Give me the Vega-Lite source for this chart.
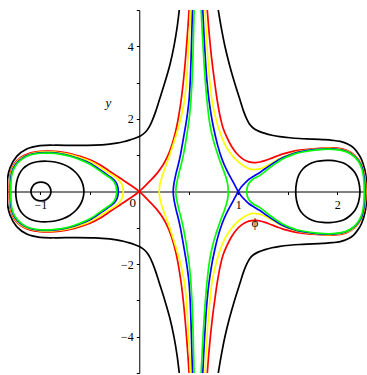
{
  "$schema": "https://vega.github.io/schema/vega-lite/v6.json",
  "width": 360,
  "height": 363,
  "autosize": {"type": "none"},
  "padding": {"left": 7, "top": 10, "right": 0, "bottom": 2},
  "background": "white",
  "config": {
    "view": {"stroke": null},
    "axis": {
      "grid": false,
      "title": null,
      "domainColor": "black",
      "domainWidth": 1,
      "tickColor": "black",
      "tickWidth": 1,
      "tickSize": 3,
      "labelColor": "black",
      "labelFont": "Liberation Serif",
      "labelFontSize": 12,
      "labelFlush": false,
      "labelOverlap": false
    }
  },
  "datasets": {
    "curves": [
      {"k": "SC", "s": "black", "loop": true},
      {"k": "LO", "s": "black", "loop": true},
      {"k": "RO", "s": "black", "loop": true},
      {"k": "OBL", "s": "black", "loop": false},
      {"k": "OBR", "s": "black", "loop": false},
      {"k": "RA", "s": "red", "loop": false},
      {"k": "RB", "s": "red", "loop": false},
      {"k": "YA", "s": "yellow", "loop": true},
      {"k": "YB", "s": "yellow", "loop": false},
      {"k": "YC", "s": "yellow", "loop": false},
      {"k": "BA", "s": "blue", "loop": true},
      {"k": "BB", "s": "blue", "loop": false},
      {"k": "BC", "s": "blue", "loop": false},
      {"k": "GA", "s": "green", "loop": true},
      {"k": "GB", "s": "green", "loop": false},
      {"k": "GC", "s": "green", "loop": false},
      {"k": "GD", "s": "green", "loop": true}
    ],
    "pts": [
      {"k":"SC","x":-0.892,"y":0},{"k":"SC","x":-0.906,"y":0.13},{"k":"SC","x":-0.943,"y":0.225},{"k":"SC","x":-0.993,"y":0.26},{"k":"SC","x":-1.044,"y":0.225},{"k":"SC","x":-1.08,"y":0.13},{"k":"SC","x":-1.094,"y":0},{"k":"SC","x":-1.08,"y":-0.13},{"k":"SC","x":-1.044,"y":-0.225},{"k":"SC","x":-0.993,"y":-0.26},{"k":"SC","x":-0.943,"y":-0.225},{"k":"SC","x":-0.906,"y":-0.13},

      {"k":"LO","x":-0.559,"y":0},{"k":"LO","x":-0.569,"y":0.187},{"k":"LO","x":-0.594,"y":0.352},{"k":"LO","x":-0.639,"y":0.517},{"k":"LO","x":-0.7,"y":0.655},{"k":"LO","x":-0.771,"y":0.751},{"k":"LO","x":-0.852,"y":0.812},{"k":"LO","x":-0.935,"y":0.834},{"k":"LO","x":-1.033,"y":0.82},{"k":"LO","x":-1.114,"y":0.751},{"k":"LO","x":-1.175,"y":0.627},{"k":"LO","x":-1.215,"y":0.462},{"k":"LO","x":-1.24,"y":0.242},{"k":"LO","x":-1.248,"y":0},
      {"k":"LO","x":-1.24,"y":-0.242},{"k":"LO","x":-1.215,"y":-0.462},{"k":"LO","x":-1.175,"y":-0.627},{"k":"LO","x":-1.114,"y":-0.751},{"k":"LO","x":-1.033,"y":-0.82},{"k":"LO","x":-0.935,"y":-0.834},{"k":"LO","x":-0.852,"y":-0.812},{"k":"LO","x":-0.771,"y":-0.751},{"k":"LO","x":-0.7,"y":-0.655},{"k":"LO","x":-0.639,"y":-0.517},{"k":"LO","x":-0.594,"y":-0.352},{"k":"LO","x":-0.569,"y":-0.187},

      {"k":"RO","x":1.58,"y":0},{"k":"RO","x":1.588,"y":0.242},{"k":"RO","x":1.613,"y":0.462},{"k":"RO","x":1.654,"y":0.627},{"k":"RO","x":1.714,"y":0.751},{"k":"RO","x":1.785,"y":0.825},{"k":"RO","x":1.856,"y":0.853},{"k":"RO","x":1.926,"y":0.856},{"k":"RO","x":1.997,"y":0.834},{"k":"RO","x":2.068,"y":0.779},{"k":"RO","x":2.128,"y":0.668},{"k":"RO","x":2.179,"y":0.517},{"k":"RO","x":2.214,"y":0.297},{"k":"RO","x":2.229,"y":0},
      {"k":"RO","x":2.214,"y":-0.297},{"k":"RO","x":2.179,"y":-0.517},{"k":"RO","x":2.128,"y":-0.668},{"k":"RO","x":2.068,"y":-0.779},{"k":"RO","x":1.997,"y":-0.834},{"k":"RO","x":1.926,"y":-0.856},{"k":"RO","x":1.856,"y":-0.853},{"k":"RO","x":1.785,"y":-0.825},{"k":"RO","x":1.714,"y":-0.751},{"k":"RO","x":1.654,"y":-0.627},{"k":"RO","x":1.613,"y":-0.462},{"k":"RO","x":1.588,"y":-0.242},

      {"k":"OBL","x":0.404,"y":5},{"k":"OBL","x":0.381,"y":4.5},{"k":"OBL","x":0.35,"y":4},{"k":"OBL","x":0.31,"y":3.5},{"k":"OBL","x":0.258,"y":3},{"k":"OBL","x":0.2,"y":2.5},{"k":"OBL","x":0.165,"y":2.2},{"k":"OBL","x":0.138,"y":2},{"k":"OBL","x":0.105,"y":1.8},{"k":"OBL","x":0.07,"y":1.66},{"k":"OBL","x":0.035,"y":1.575},{"k":"OBL","x":0,"y":1.515},{"k":"OBL","x":-0.05,"y":1.46},{"k":"OBL","x":-0.1,"y":1.415},{"k":"OBL","x":-0.16,"y":1.37},{"k":"OBL","x":-0.23,"y":1.333},{"k":"OBL","x":-0.3,"y":1.307},{"k":"OBL","x":-0.45,"y":1.277},{"k":"OBL","x":-0.65,"y":1.27},{"k":"OBL","x":-0.85,"y":1.275},{"k":"OBL","x":-1.003,"y":1.262},{"k":"OBL","x":-1.137,"y":1.17},{"k":"OBL","x":-1.238,"y":0.966},{"k":"OBL","x":-1.306,"y":0.646},{"k":"OBL","x":-1.332,"y":0.325},{"k":"OBL","x":-1.334,"y":0},
      {"k":"OBL","x":-1.332,"y":-0.325},{"k":"OBL","x":-1.306,"y":-0.646},{"k":"OBL","x":-1.238,"y":-0.966},{"k":"OBL","x":-1.137,"y":-1.17},{"k":"OBL","x":-1.003,"y":-1.262},{"k":"OBL","x":-0.85,"y":-1.275},{"k":"OBL","x":-0.65,"y":-1.27},{"k":"OBL","x":-0.45,"y":-1.277},{"k":"OBL","x":-0.3,"y":-1.307},{"k":"OBL","x":-0.23,"y":-1.333},{"k":"OBL","x":-0.16,"y":-1.37},{"k":"OBL","x":-0.1,"y":-1.415},{"k":"OBL","x":-0.05,"y":-1.46},{"k":"OBL","x":0,"y":-1.515},{"k":"OBL","x":0.035,"y":-1.575},{"k":"OBL","x":0.07,"y":-1.66},{"k":"OBL","x":0.105,"y":-1.8},{"k":"OBL","x":0.138,"y":-2},{"k":"OBL","x":0.165,"y":-2.2},{"k":"OBL","x":0.2,"y":-2.5},{"k":"OBL","x":0.258,"y":-3},{"k":"OBL","x":0.31,"y":-3.5},{"k":"OBL","x":0.35,"y":-4},{"k":"OBL","x":0.381,"y":-4.5},{"k":"OBL","x":0.404,"y":-5},

      {"k":"OBR","x":0.798,"y":5},{"k":"OBR","x":0.829,"y":4.5},{"k":"OBR","x":0.865,"y":4},{"k":"OBR","x":0.91,"y":3.5},{"k":"OBR","x":0.962,"y":3},{"k":"OBR","x":1.02,"y":2.5},{"k":"OBR","x":1.055,"y":2.2},{"k":"OBR","x":1.085,"y":2},{"k":"OBR","x":1.115,"y":1.85},{"k":"OBR","x":1.15,"y":1.75},{"k":"OBR","x":1.2,"y":1.67},{"k":"OBR","x":1.27,"y":1.6},{"k":"OBR","x":1.34,"y":1.55},{"k":"OBR","x":1.42,"y":1.51},{"k":"OBR","x":1.52,"y":1.48},{"k":"OBR","x":1.62,"y":1.46},{"k":"OBR","x":1.75,"y":1.445},{"k":"OBR","x":1.85,"y":1.43},{"k":"OBR","x":1.95,"y":1.41},{"k":"OBR","x":2.03,"y":1.38},{"k":"OBR","x":2.11,"y":1.3},{"k":"OBR","x":2.165,"y":1.2},{"k":"OBR","x":2.222,"y":1},{"k":"OBR","x":2.246,"y":0.875},{"k":"OBR","x":2.278,"y":0.6},{"k":"OBR","x":2.294,"y":0.3},{"k":"OBR","x":2.298,"y":0},
      {"k":"OBR","x":2.294,"y":-0.3},{"k":"OBR","x":2.278,"y":-0.6},{"k":"OBR","x":2.246,"y":-0.875},{"k":"OBR","x":2.222,"y":-1},{"k":"OBR","x":2.165,"y":-1.2},{"k":"OBR","x":2.11,"y":-1.3},{"k":"OBR","x":2.03,"y":-1.38},{"k":"OBR","x":1.95,"y":-1.41},{"k":"OBR","x":1.85,"y":-1.43},{"k":"OBR","x":1.75,"y":-1.445},{"k":"OBR","x":1.62,"y":-1.46},{"k":"OBR","x":1.52,"y":-1.48},{"k":"OBR","x":1.42,"y":-1.51},{"k":"OBR","x":1.34,"y":-1.55},{"k":"OBR","x":1.27,"y":-1.6},{"k":"OBR","x":1.2,"y":-1.67},{"k":"OBR","x":1.15,"y":-1.75},{"k":"OBR","x":1.115,"y":-1.85},{"k":"OBR","x":1.085,"y":-2},{"k":"OBR","x":1.055,"y":-2.2},{"k":"OBR","x":1.02,"y":-2.5},{"k":"OBR","x":0.962,"y":-3},{"k":"OBR","x":0.91,"y":-3.5},{"k":"OBR","x":0.865,"y":-4},{"k":"OBR","x":0.829,"y":-4.5},{"k":"OBR","x":0.798,"y":-5},

      {"k":"RA","x":0.503,"y":5},{"k":"RA","x":0.491,"y":4.5},{"k":"RA","x":0.477,"y":4},{"k":"RA","x":0.462,"y":3.5},{"k":"RA","x":0.444,"y":3},{"k":"RA","x":0.422,"y":2.5},{"k":"RA","x":0.393,"y":2},{"k":"RA","x":0.375,"y":1.75},{"k":"RA","x":0.353,"y":1.5},{"k":"RA","x":0.326,"y":1.25},{"k":"RA","x":0.291,"y":1},{"k":"RA","x":0.244,"y":0.75},{"k":"RA","x":0.179,"y":0.5},{"k":"RA","x":0.094,"y":0.25},{"k":"RA","x":0,"y":0},
      {"k":"RA","x":-0.094,"y":-0.187},{"k":"RA","x":-0.195,"y":-0.371},{"k":"RA","x":-0.296,"y":-0.553},{"k":"RA","x":-0.397,"y":-0.737},{"k":"RA","x":-0.498,"y":-0.875},{"k":"RA","x":-0.599,"y":-0.971},{"k":"RA","x":-0.7,"y":-1.048},{"k":"RA","x":-0.801,"y":-1.095},{"k":"RA","x":-0.902,"y":-1.114},{"k":"RA","x":-1.003,"y":-1.109},{"k":"RA","x":-1.104,"y":-1.059},{"k":"RA","x":-1.195,"y":-0.944},{"k":"RA","x":-1.261,"y":-0.765},{"k":"RA","x":-1.298,"y":-0.545},{"k":"RA","x":-1.311,"y":-0.283},{"k":"RA","x":-1.313,"y":0},
      {"k":"RA","x":-1.311,"y":0.283},{"k":"RA","x":-1.298,"y":0.545},{"k":"RA","x":-1.261,"y":0.765},{"k":"RA","x":-1.195,"y":0.944},{"k":"RA","x":-1.104,"y":1.059},{"k":"RA","x":-1.003,"y":1.109},{"k":"RA","x":-0.902,"y":1.114},{"k":"RA","x":-0.801,"y":1.095},{"k":"RA","x":-0.7,"y":1.048},{"k":"RA","x":-0.599,"y":0.971},{"k":"RA","x":-0.498,"y":0.875},{"k":"RA","x":-0.397,"y":0.737},{"k":"RA","x":-0.296,"y":0.553},{"k":"RA","x":-0.195,"y":0.371},{"k":"RA","x":-0.094,"y":0.187},{"k":"RA","x":0,"y":0},
      {"k":"RA","x":0.094,"y":-0.25},{"k":"RA","x":0.179,"y":-0.5},{"k":"RA","x":0.244,"y":-0.75},{"k":"RA","x":0.291,"y":-1},{"k":"RA","x":0.326,"y":-1.25},{"k":"RA","x":0.353,"y":-1.5},{"k":"RA","x":0.375,"y":-1.75},{"k":"RA","x":0.393,"y":-2},{"k":"RA","x":0.422,"y":-2.5},{"k":"RA","x":0.444,"y":-3},{"k":"RA","x":0.462,"y":-3.5},{"k":"RA","x":0.477,"y":-4},{"k":"RA","x":0.491,"y":-4.5},{"k":"RA","x":0.503,"y":-5},

      {"k":"RB","x":0.687,"y":5},{"k":"RB","x":0.701,"y":4.5},{"k":"RB","x":0.718,"y":4},{"k":"RB","x":0.738,"y":3.5},{"k":"RB","x":0.762,"y":3},{"k":"RB","x":0.788,"y":2.5},{"k":"RB","x":0.822,"y":2},{"k":"RB","x":0.846,"y":1.75},{"k":"RB","x":0.884,"y":1.5},{"k":"RB","x":0.933,"y":1.24},{"k":"RB","x":0.982,"y":1.054},{"k":"RB","x":1.034,"y":0.92},{"k":"RB","x":1.083,"y":0.839},{"k":"RB","x":1.135,"y":0.8},{"k":"RB","x":1.179,"y":0.798},{"k":"RB","x":1.219,"y":0.812},{"k":"RB","x":1.27,"y":0.85},{"k":"RB","x":1.32,"y":0.9},{"k":"RB","x":1.39,"y":0.975},{"k":"RB","x":1.452,"y":1.035},{"k":"RB","x":1.55,"y":1.105},{"k":"RB","x":1.623,"y":1.14},{"k":"RB","x":1.792,"y":1.185},{"k":"RB","x":1.957,"y":1.2},{"k":"RB","x":2.088,"y":1.14},{"k":"RB","x":2.179,"y":0.985},{"k":"RB","x":2.239,"y":0.765},{"k":"RB","x":2.277,"y":0.435},{"k":"RB","x":2.29,"y":0},
      {"k":"RB","x":2.277,"y":-0.435},{"k":"RB","x":2.239,"y":-0.765},{"k":"RB","x":2.179,"y":-0.985},{"k":"RB","x":2.088,"y":-1.14},{"k":"RB","x":1.957,"y":-1.2},{"k":"RB","x":1.792,"y":-1.185},{"k":"RB","x":1.623,"y":-1.14},{"k":"RB","x":1.55,"y":-1.105},{"k":"RB","x":1.452,"y":-1.035},{"k":"RB","x":1.39,"y":-0.975},{"k":"RB","x":1.32,"y":-0.9},{"k":"RB","x":1.27,"y":-0.85},{"k":"RB","x":1.219,"y":-0.812},{"k":"RB","x":1.179,"y":-0.798},{"k":"RB","x":1.135,"y":-0.8},{"k":"RB","x":1.083,"y":-0.839},{"k":"RB","x":1.034,"y":-0.92},{"k":"RB","x":0.982,"y":-1.054},{"k":"RB","x":0.933,"y":-1.24},{"k":"RB","x":0.884,"y":-1.5},{"k":"RB","x":0.846,"y":-1.75},{"k":"RB","x":0.822,"y":-2},{"k":"RB","x":0.788,"y":-2.5},{"k":"RB","x":0.762,"y":-3},{"k":"RB","x":0.738,"y":-3.5},{"k":"RB","x":0.718,"y":-4},{"k":"RB","x":0.701,"y":-4.5},{"k":"RB","x":0.687,"y":-5},

      {"k":"YA","x":-0.162,"y":0},{"k":"YA","x":-0.167,"y":0.118},{"k":"YA","x":-0.18,"y":0.215},{"k":"YA","x":-0.2,"y":0.297},{"k":"YA","x":-0.225,"y":0.366},{"k":"YA","x":-0.256,"y":0.424},{"k":"YA","x":-0.296,"y":0.492},{"k":"YA","x":-0.346,"y":0.583},{"k":"YA","x":-0.397,"y":0.671},{"k":"YA","x":-0.498,"y":0.831},{"k":"YA","x":-0.599,"y":0.933},{"k":"YA","x":-0.7,"y":1.015},{"k":"YA","x":-0.801,"y":1.067},{"k":"YA","x":-0.902,"y":1.089},{"k":"YA","x":-1.003,"y":1.084},{"k":"YA","x":-1.104,"y":1.034},{"k":"YA","x":-1.193,"y":0.922},{"k":"YA","x":-1.258,"y":0.746},{"k":"YA","x":-1.293,"y":0.531},{"k":"YA","x":-1.306,"y":0.283},{"k":"YA","x":-1.308,"y":0},
      {"k":"YA","x":-1.306,"y":-0.283},{"k":"YA","x":-1.293,"y":-0.531},{"k":"YA","x":-1.258,"y":-0.746},{"k":"YA","x":-1.193,"y":-0.922},{"k":"YA","x":-1.104,"y":-1.034},{"k":"YA","x":-1.003,"y":-1.084},{"k":"YA","x":-0.902,"y":-1.089},{"k":"YA","x":-0.801,"y":-1.067},{"k":"YA","x":-0.7,"y":-1.015},{"k":"YA","x":-0.599,"y":-0.933},{"k":"YA","x":-0.498,"y":-0.831},{"k":"YA","x":-0.397,"y":-0.671},{"k":"YA","x":-0.346,"y":-0.583},{"k":"YA","x":-0.296,"y":-0.492},{"k":"YA","x":-0.256,"y":-0.424},{"k":"YA","x":-0.225,"y":-0.366},{"k":"YA","x":-0.2,"y":-0.297},{"k":"YA","x":-0.18,"y":-0.215},{"k":"YA","x":-0.167,"y":-0.118},

      {"k":"YB","x":0.518,"y":5},{"k":"YB","x":0.509,"y":4.5},{"k":"YB","x":0.499,"y":4},{"k":"YB","x":0.488,"y":3.5},{"k":"YB","x":0.476,"y":3},{"k":"YB","x":0.456,"y":2.5},{"k":"YB","x":0.418,"y":2},{"k":"YB","x":0.393,"y":1.75},{"k":"YB","x":0.366,"y":1.5},{"k":"YB","x":0.337,"y":1.25},{"k":"YB","x":0.307,"y":1},{"k":"YB","x":0.2745,"y":0.75},{"k":"YB","x":0.241,"y":0.5},{"k":"YB","x":0.213,"y":0.25},{"k":"YB","x":0.2045,"y":0.12},{"k":"YB","x":0.202,"y":0},
      {"k":"YB","x":0.2045,"y":-0.12},{"k":"YB","x":0.213,"y":-0.25},{"k":"YB","x":0.241,"y":-0.5},{"k":"YB","x":0.2745,"y":-0.75},{"k":"YB","x":0.307,"y":-1},{"k":"YB","x":0.337,"y":-1.25},{"k":"YB","x":0.366,"y":-1.5},{"k":"YB","x":0.393,"y":-1.75},{"k":"YB","x":0.418,"y":-2},{"k":"YB","x":0.456,"y":-2.5},{"k":"YB","x":0.476,"y":-3},{"k":"YB","x":0.488,"y":-3.5},{"k":"YB","x":0.499,"y":-4},{"k":"YB","x":0.509,"y":-4.5},{"k":"YB","x":0.518,"y":-5},

      {"k":"YC","x":0.664,"y":5},{"k":"YC","x":0.673,"y":4.5},{"k":"YC","x":0.684,"y":4},{"k":"YC","x":0.697,"y":3.5},{"k":"YC","x":0.713,"y":3},{"k":"YC","x":0.734,"y":2.5},{"k":"YC","x":0.774,"y":2},{"k":"YC","x":0.8,"y":1.75},{"k":"YC","x":0.832,"y":1.5},{"k":"YC","x":0.874,"y":1.25},{"k":"YC","x":0.936,"y":1},{"k":"YC","x":0.977,"y":0.875},{"k":"YC","x":1.038,"y":0.737},{"k":"YC","x":1.098,"y":0.641},{"k":"YC","x":1.148,"y":0.605},{"k":"YC","x":1.2,"y":0.615},{"k":"YC","x":1.25,"y":0.655},{"k":"YC","x":1.32,"y":0.755},{"k":"YC","x":1.39,"y":0.865},{"k":"YC","x":1.452,"y":0.95},{"k":"YC","x":1.55,"y":1.055},{"k":"YC","x":1.623,"y":1.105},{"k":"YC","x":1.792,"y":1.166},{"k":"YC","x":1.957,"y":1.183},{"k":"YC","x":2.088,"y":1.122},{"k":"YC","x":2.179,"y":0.971},{"k":"YC","x":2.239,"y":0.751},{"k":"YC","x":2.274,"y":0.435},{"k":"YC","x":2.287,"y":0},
      {"k":"YC","x":2.274,"y":-0.435},{"k":"YC","x":2.239,"y":-0.751},{"k":"YC","x":2.179,"y":-0.971},{"k":"YC","x":2.088,"y":-1.122},{"k":"YC","x":1.957,"y":-1.183},{"k":"YC","x":1.792,"y":-1.166},{"k":"YC","x":1.623,"y":-1.105},{"k":"YC","x":1.55,"y":-1.055},{"k":"YC","x":1.452,"y":-0.95},{"k":"YC","x":1.39,"y":-0.865},{"k":"YC","x":1.32,"y":-0.755},{"k":"YC","x":1.25,"y":-0.655},{"k":"YC","x":1.2,"y":-0.615},{"k":"YC","x":1.148,"y":-0.605},{"k":"YC","x":1.098,"y":-0.641},{"k":"YC","x":1.038,"y":-0.737},{"k":"YC","x":0.977,"y":-0.875},{"k":"YC","x":0.936,"y":-1},{"k":"YC","x":0.874,"y":-1.25},{"k":"YC","x":0.832,"y":-1.5},{"k":"YC","x":0.8,"y":-1.75},{"k":"YC","x":0.774,"y":-2},{"k":"YC","x":0.734,"y":-2.5},{"k":"YC","x":0.713,"y":-3},{"k":"YC","x":0.697,"y":-3.5},{"k":"YC","x":0.684,"y":-4},{"k":"YC","x":0.673,"y":-4.5},{"k":"YC","x":0.664,"y":-5},

      {"k":"BA","x":-0.212,"y":0},{"k":"BA","x":-0.217,"y":0.118},{"k":"BA","x":-0.229,"y":0.215},{"k":"BA","x":-0.248,"y":0.297},{"k":"BA","x":-0.273,"y":0.363},{"k":"BA","x":-0.301,"y":0.418},{"k":"BA","x":-0.346,"y":0.503},{"k":"BA","x":-0.397,"y":0.6},{"k":"BA","x":-0.498,"y":0.779},{"k":"BA","x":-0.599,"y":0.894},{"k":"BA","x":-0.7,"y":0.985},{"k":"BA","x":-0.801,"y":1.045},{"k":"BA","x":-0.902,"y":1.07},{"k":"BA","x":-1.003,"y":1.067},{"k":"BA","x":-1.104,"y":1.018},{"k":"BA","x":-1.189,"y":0.905},{"k":"BA","x":-1.253,"y":0.732},{"k":"BA","x":-1.288,"y":0.523},{"k":"BA","x":-1.301,"y":0.281},{"k":"BA","x":-1.303,"y":0},
      {"k":"BA","x":-1.301,"y":-0.281},{"k":"BA","x":-1.288,"y":-0.523},{"k":"BA","x":-1.253,"y":-0.732},{"k":"BA","x":-1.189,"y":-0.905},{"k":"BA","x":-1.104,"y":-1.018},{"k":"BA","x":-1.003,"y":-1.067},{"k":"BA","x":-0.902,"y":-1.07},{"k":"BA","x":-0.801,"y":-1.045},{"k":"BA","x":-0.7,"y":-0.985},{"k":"BA","x":-0.599,"y":-0.894},{"k":"BA","x":-0.498,"y":-0.779},{"k":"BA","x":-0.397,"y":-0.6},{"k":"BA","x":-0.346,"y":-0.503},{"k":"BA","x":-0.301,"y":-0.418},{"k":"BA","x":-0.273,"y":-0.363},{"k":"BA","x":-0.248,"y":-0.297},{"k":"BA","x":-0.229,"y":-0.215},{"k":"BA","x":-0.217,"y":-0.118},

      {"k":"BB","x":0.538,"y":5},{"k":"BB","x":0.532,"y":4.5},{"k":"BB","x":0.527,"y":4},{"k":"BB","x":0.521,"y":3.5},{"k":"BB","x":0.514,"y":3},{"k":"BB","x":0.502,"y":2.5},{"k":"BB","x":0.479,"y":2},{"k":"BB","x":0.464,"y":1.75},{"k":"BB","x":0.448,"y":1.5},{"k":"BB","x":0.432,"y":1.25},{"k":"BB","x":0.4155,"y":1},{"k":"BB","x":0.395,"y":0.75},{"k":"BB","x":0.3715,"y":0.5},{"k":"BB","x":0.3525,"y":0.25},{"k":"BB","x":0.3455,"y":0.12},{"k":"BB","x":0.343,"y":0},
      {"k":"BB","x":0.3455,"y":-0.12},{"k":"BB","x":0.3525,"y":-0.25},{"k":"BB","x":0.3715,"y":-0.5},{"k":"BB","x":0.395,"y":-0.75},{"k":"BB","x":0.4155,"y":-1},{"k":"BB","x":0.432,"y":-1.25},{"k":"BB","x":0.448,"y":-1.5},{"k":"BB","x":0.464,"y":-1.75},{"k":"BB","x":0.479,"y":-2},{"k":"BB","x":0.502,"y":-2.5},{"k":"BB","x":0.514,"y":-3},{"k":"BB","x":0.521,"y":-3.5},{"k":"BB","x":0.527,"y":-4},{"k":"BB","x":0.532,"y":-4.5},{"k":"BB","x":0.538,"y":-5},

      {"k":"BC","x":0.641,"y":5},{"k":"BC","x":0.65,"y":4.5},{"k":"BC","x":0.66,"y":4},{"k":"BC","x":0.671,"y":3.5},{"k":"BC","x":0.685,"y":3},{"k":"BC","x":0.705,"y":2.5},{"k":"BC","x":0.733,"y":2},{"k":"BC","x":0.751,"y":1.75},{"k":"BC","x":0.771,"y":1.5},{"k":"BC","x":0.794,"y":1.25},{"k":"BC","x":0.822,"y":1},{"k":"BC","x":0.856,"y":0.75},{"k":"BC","x":0.9,"y":0.5},{"k":"BC","x":0.95,"y":0.25},{"k":"BC","x":1,"y":0},
      {"k":"BC","x":1.032,"y":-0.132},{"k":"BC","x":1.068,"y":-0.234},{"k":"BC","x":1.108,"y":-0.338},{"k":"BC","x":1.152,"y":-0.415},{"k":"BC","x":1.219,"y":-0.525},{"k":"BC","x":1.27,"y":-0.625},{"k":"BC","x":1.32,"y":-0.72},{"k":"BC","x":1.39,"y":-0.84},{"k":"BC","x":1.452,"y":-0.935},{"k":"BC","x":1.55,"y":-1.04},{"k":"BC","x":1.623,"y":-1.095},{"k":"BC","x":1.792,"y":-1.158},{"k":"BC","x":1.957,"y":-1.172},{"k":"BC","x":2.088,"y":-1.109},{"k":"BC","x":2.179,"y":-0.957},{"k":"BC","x":2.239,"y":-0.737},{"k":"BC","x":2.269,"y":-0.435},{"k":"BC","x":2.279,"y":0},
      {"k":"BC","x":2.269,"y":0.435},{"k":"BC","x":2.239,"y":0.737},{"k":"BC","x":2.179,"y":0.957},{"k":"BC","x":2.088,"y":1.109},{"k":"BC","x":1.957,"y":1.172},{"k":"BC","x":1.792,"y":1.158},{"k":"BC","x":1.623,"y":1.095},{"k":"BC","x":1.55,"y":1.04},{"k":"BC","x":1.452,"y":0.935},{"k":"BC","x":1.39,"y":0.84},{"k":"BC","x":1.32,"y":0.72},{"k":"BC","x":1.27,"y":0.625},{"k":"BC","x":1.219,"y":0.525},{"k":"BC","x":1.152,"y":0.415},{"k":"BC","x":1.108,"y":0.338},{"k":"BC","x":1.068,"y":0.234},{"k":"BC","x":1.032,"y":0.132},{"k":"BC","x":1,"y":0},
      {"k":"BC","x":0.95,"y":-0.25},{"k":"BC","x":0.9,"y":-0.5},{"k":"BC","x":0.856,"y":-0.75},{"k":"BC","x":0.822,"y":-1},{"k":"BC","x":0.794,"y":-1.25},{"k":"BC","x":0.771,"y":-1.5},{"k":"BC","x":0.751,"y":-1.75},{"k":"BC","x":0.733,"y":-2},{"k":"BC","x":0.705,"y":-2.5},{"k":"BC","x":0.685,"y":-3},{"k":"BC","x":0.671,"y":-3.5},{"k":"BC","x":0.66,"y":-4},{"k":"BC","x":0.65,"y":-4.5},{"k":"BC","x":0.641,"y":-5},

      {"k":"GA","x":-0.228,"y":0},{"k":"GA","x":-0.233,"y":0.118},{"k":"GA","x":-0.245,"y":0.215},{"k":"GA","x":-0.264,"y":0.297},{"k":"GA","x":-0.289,"y":0.363},{"k":"GA","x":-0.316,"y":0.415},{"k":"GA","x":-0.357,"y":0.49},{"k":"GA","x":-0.397,"y":0.567},{"k":"GA","x":-0.498,"y":0.751},{"k":"GA","x":-0.599,"y":0.875},{"k":"GA","x":-0.7,"y":0.971},{"k":"GA","x":-0.801,"y":1.031},{"k":"GA","x":-0.902,"y":1.056},{"k":"GA","x":-1.003,"y":1.053},{"k":"GA","x":-1.104,"y":1.004},{"k":"GA","x":-1.185,"y":0.891},{"k":"GA","x":-1.248,"y":0.718},{"k":"GA","x":-1.283,"y":0.509},{"k":"GA","x":-1.296,"y":0.275},{"k":"GA","x":-1.298,"y":0},
      {"k":"GA","x":-1.296,"y":-0.275},{"k":"GA","x":-1.283,"y":-0.509},{"k":"GA","x":-1.248,"y":-0.718},{"k":"GA","x":-1.185,"y":-0.891},{"k":"GA","x":-1.104,"y":-1.004},{"k":"GA","x":-1.003,"y":-1.053},{"k":"GA","x":-0.902,"y":-1.056},{"k":"GA","x":-0.801,"y":-1.031},{"k":"GA","x":-0.7,"y":-0.971},{"k":"GA","x":-0.599,"y":-0.875},{"k":"GA","x":-0.498,"y":-0.751},{"k":"GA","x":-0.397,"y":-0.567},{"k":"GA","x":-0.357,"y":-0.49},{"k":"GA","x":-0.316,"y":-0.415},{"k":"GA","x":-0.289,"y":-0.363},{"k":"GA","x":-0.264,"y":-0.297},{"k":"GA","x":-0.245,"y":-0.215},{"k":"GA","x":-0.233,"y":-0.118},

      {"k":"GB","x":0.553,"y":5},{"k":"GB","x":0.549,"y":4.5},{"k":"GB","x":0.545,"y":4},{"k":"GB","x":0.539,"y":3.5},{"k":"GB","x":0.532,"y":3},{"k":"GB","x":0.521,"y":2.5},{"k":"GB","x":0.504,"y":2},{"k":"GB","x":0.491,"y":1.75},{"k":"GB","x":0.477,"y":1.5},{"k":"GB","x":0.462,"y":1.25},{"k":"GB","x":0.445,"y":1},{"k":"GB","x":0.424,"y":0.75},{"k":"GB","x":0.4,"y":0.5},{"k":"GB","x":0.3795,"y":0.25},{"k":"GB","x":0.3715,"y":0.12},{"k":"GB","x":0.369,"y":0},
      {"k":"GB","x":0.3715,"y":-0.12},{"k":"GB","x":0.3795,"y":-0.25},{"k":"GB","x":0.4,"y":-0.5},{"k":"GB","x":0.424,"y":-0.75},{"k":"GB","x":0.445,"y":-1},{"k":"GB","x":0.462,"y":-1.25},{"k":"GB","x":0.477,"y":-1.5},{"k":"GB","x":0.491,"y":-1.75},{"k":"GB","x":0.504,"y":-2},{"k":"GB","x":0.521,"y":-2.5},{"k":"GB","x":0.532,"y":-3},{"k":"GB","x":0.539,"y":-3.5},{"k":"GB","x":0.545,"y":-4},{"k":"GB","x":0.549,"y":-4.5},{"k":"GB","x":0.553,"y":-5},

      {"k":"GC","x":0.625,"y":5},{"k":"GC","x":0.634,"y":4.5},{"k":"GC","x":0.644,"y":4},{"k":"GC","x":0.655,"y":3.5},{"k":"GC","x":0.668,"y":3},{"k":"GC","x":0.684,"y":2.5},{"k":"GC","x":0.705,"y":2},{"k":"GC","x":0.72,"y":1.75},{"k":"GC","x":0.74,"y":1.5},{"k":"GC","x":0.765,"y":1.25},{"k":"GC","x":0.795,"y":1},{"k":"GC","x":0.827,"y":0.75},{"k":"GC","x":0.862,"y":0.5},{"k":"GC","x":0.889,"y":0.25},{"k":"GC","x":0.8965,"y":0.12},{"k":"GC","x":0.899,"y":0},
      {"k":"GC","x":0.8965,"y":-0.12},{"k":"GC","x":0.889,"y":-0.25},{"k":"GC","x":0.862,"y":-0.5},{"k":"GC","x":0.827,"y":-0.75},{"k":"GC","x":0.795,"y":-1},{"k":"GC","x":0.765,"y":-1.25},{"k":"GC","x":0.74,"y":-1.5},{"k":"GC","x":0.72,"y":-1.75},{"k":"GC","x":0.705,"y":-2},{"k":"GC","x":0.684,"y":-2.5},{"k":"GC","x":0.668,"y":-3},{"k":"GC","x":0.655,"y":-3.5},{"k":"GC","x":0.644,"y":-4},{"k":"GC","x":0.634,"y":-4.5},{"k":"GC","x":0.625,"y":-5},

      {"k":"GD","x":1.085,"y":0},{"k":"GD","x":1.092,"y":0.132},{"k":"GD","x":1.111,"y":0.242},{"k":"GD","x":1.142,"y":0.325},{"k":"GD","x":1.179,"y":0.385},{"k":"GD","x":1.219,"y":0.445},{"k":"GD","x":1.27,"y":0.55},{"k":"GD","x":1.32,"y":0.66},{"k":"GD","x":1.39,"y":0.795},{"k":"GD","x":1.452,"y":0.9},{"k":"GD","x":1.55,"y":1.015},{"k":"GD","x":1.623,"y":1.075},{"k":"GD","x":1.792,"y":1.146},{"k":"GD","x":1.957,"y":1.163},{"k":"GD","x":2.088,"y":1.098},{"k":"GD","x":2.179,"y":0.94},{"k":"GD","x":2.236,"y":0.715},{"k":"GD","x":2.264,"y":0.421},{"k":"GD","x":2.272,"y":0},
      {"k":"GD","x":2.264,"y":-0.421},{"k":"GD","x":2.236,"y":-0.715},{"k":"GD","x":2.179,"y":-0.94},{"k":"GD","x":2.088,"y":-1.098},{"k":"GD","x":1.957,"y":-1.163},{"k":"GD","x":1.792,"y":-1.146},{"k":"GD","x":1.623,"y":-1.075},{"k":"GD","x":1.55,"y":-1.015},{"k":"GD","x":1.452,"y":-0.9},{"k":"GD","x":1.39,"y":-0.795},{"k":"GD","x":1.32,"y":-0.66},{"k":"GD","x":1.27,"y":-0.55},{"k":"GD","x":1.219,"y":-0.445},{"k":"GD","x":1.179,"y":-0.385},{"k":"GD","x":1.142,"y":-0.325},{"k":"GD","x":1.111,"y":-0.242},{"k":"GD","x":1.092,"y":-0.132}
    ]
  },
  "data": {"name": "pts"},
  "transform": [
    {"lookup": "k", "from": {"data": {"name": "curves"}, "key": "k", "fields": ["s", "loop"]}},
    {"window": [{"op": "row_number", "as": "i"}]}
  ],
  "encoding": {
    "x": {
      "field": "x", "type": "quantitative",
      "scale": {"domain": [-1.336, 2.3], "nice": false, "zero": false},
      "axis": {
        "values": [-1, -0.5, 0.5, 1, 1.5, 2],
        "labelExpr": "datum.value === -1 ? '−1' : datum.value === 1 ? '1' : datum.value === 2 ? '2' : ''",
        "labelOverlap": false,
        "offset": -181.5,
        "labelPadding": 5
      }
    },
    "y": {
      "field": "y", "type": "quantitative",
      "scale": {"domain": [-5, 5], "nice": false, "zero": false},
      "axis": {
        "values": [-5, -4, -3, -2, -1, 1, 2, 3, 4, 5],
        "labelExpr": "datum.value === 4 ? '4' : datum.value === 2 ? '2' : datum.value === -2 ? '−2' : datum.value === -4 ? '−4' : ''",
        "labelOverlap": false,
        "offset": -132.28,
        "labelPadding": 3
      }
    }
  },
  "layer": [
    {
      "transform": [{"filter": "datum.s === 'black' && datum.loop"}],
      "mark": {"type": "line", "color": "#000000", "strokeWidth": 1.7, "interpolate": "cardinal-closed", "clip": true},
      "encoding": {"detail": {"field": "k"}, "order": {"field": "i"}}
    },
    {
      "transform": [{"filter": "datum.s === 'black' && !datum.loop"}],
      "mark": {"type": "line", "color": "#000000", "strokeWidth": 1.7, "interpolate": "catmull-rom", "clip": true},
      "encoding": {"detail": {"field": "k"}, "order": {"field": "i"}}
    },
    {
      "transform": [{"filter": "datum.s === 'red'"}],
      "mark": {"type": "line", "color": "#ff0000", "strokeWidth": 1.7, "interpolate": "catmull-rom", "clip": true},
      "encoding": {"detail": {"field": "k"}, "order": {"field": "i"}}
    },
    {
      "transform": [{"filter": "datum.s === 'yellow' && datum.loop"}],
      "mark": {"type": "line", "color": "#ffff00", "strokeWidth": 1.7, "interpolate": "cardinal-closed", "clip": true},
      "encoding": {"detail": {"field": "k"}, "order": {"field": "i"}}
    },
    {
      "transform": [{"filter": "datum.s === 'yellow' && !datum.loop"}],
      "mark": {"type": "line", "color": "#ffff00", "strokeWidth": 1.7, "interpolate": "catmull-rom", "clip": true},
      "encoding": {"detail": {"field": "k"}, "order": {"field": "i"}}
    },
    {
      "transform": [{"filter": "datum.s === 'blue' && datum.loop"}],
      "mark": {"type": "line", "color": "#0000ff", "strokeWidth": 1.7, "interpolate": "cardinal-closed", "clip": true},
      "encoding": {"detail": {"field": "k"}, "order": {"field": "i"}}
    },
    {
      "transform": [{"filter": "datum.s === 'blue' && !datum.loop"}],
      "mark": {"type": "line", "color": "#0000ff", "strokeWidth": 1.7, "interpolate": "catmull-rom", "clip": true},
      "encoding": {"detail": {"field": "k"}, "order": {"field": "i"}}
    },
    {
      "transform": [{"filter": "datum.s === 'green' && datum.loop"}],
      "mark": {"type": "line", "color": "#00ff00", "strokeWidth": 1.7, "interpolate": "cardinal-closed", "clip": true},
      "encoding": {"detail": {"field": "k"}, "order": {"field": "i"}}
    },
    {
      "transform": [{"filter": "datum.s === 'green' && !datum.loop"}],
      "mark": {"type": "line", "color": "#00ff00", "strokeWidth": 1.7, "interpolate": "catmull-rom", "clip": true},
      "encoding": {"detail": {"field": "k"}, "order": {"field": "i"}}
    },
    {
      "data": {"values": [
        {"t": "0", "x": -0.067, "y": -0.316},
        {"t": "ϕ", "x": 1.169, "y": -0.867}
      ]},
      "mark": {"type": "text", "font": "Liberation Serif", "fontSize": 13, "color": "black", "align": "center", "baseline": "middle"},
      "encoding": {"text": {"field": "t"}}
    },
    {
      "data": {"values": [
        {"t": "y", "x": -0.313, "y": 2.435}
      ]},
      "mark": {"type": "text", "font": "Liberation Serif", "fontSize": 13, "fontStyle": "italic", "color": "black", "align": "center", "baseline": "middle"},
      "encoding": {"text": {"field": "t"}}
    }
  ]
}
